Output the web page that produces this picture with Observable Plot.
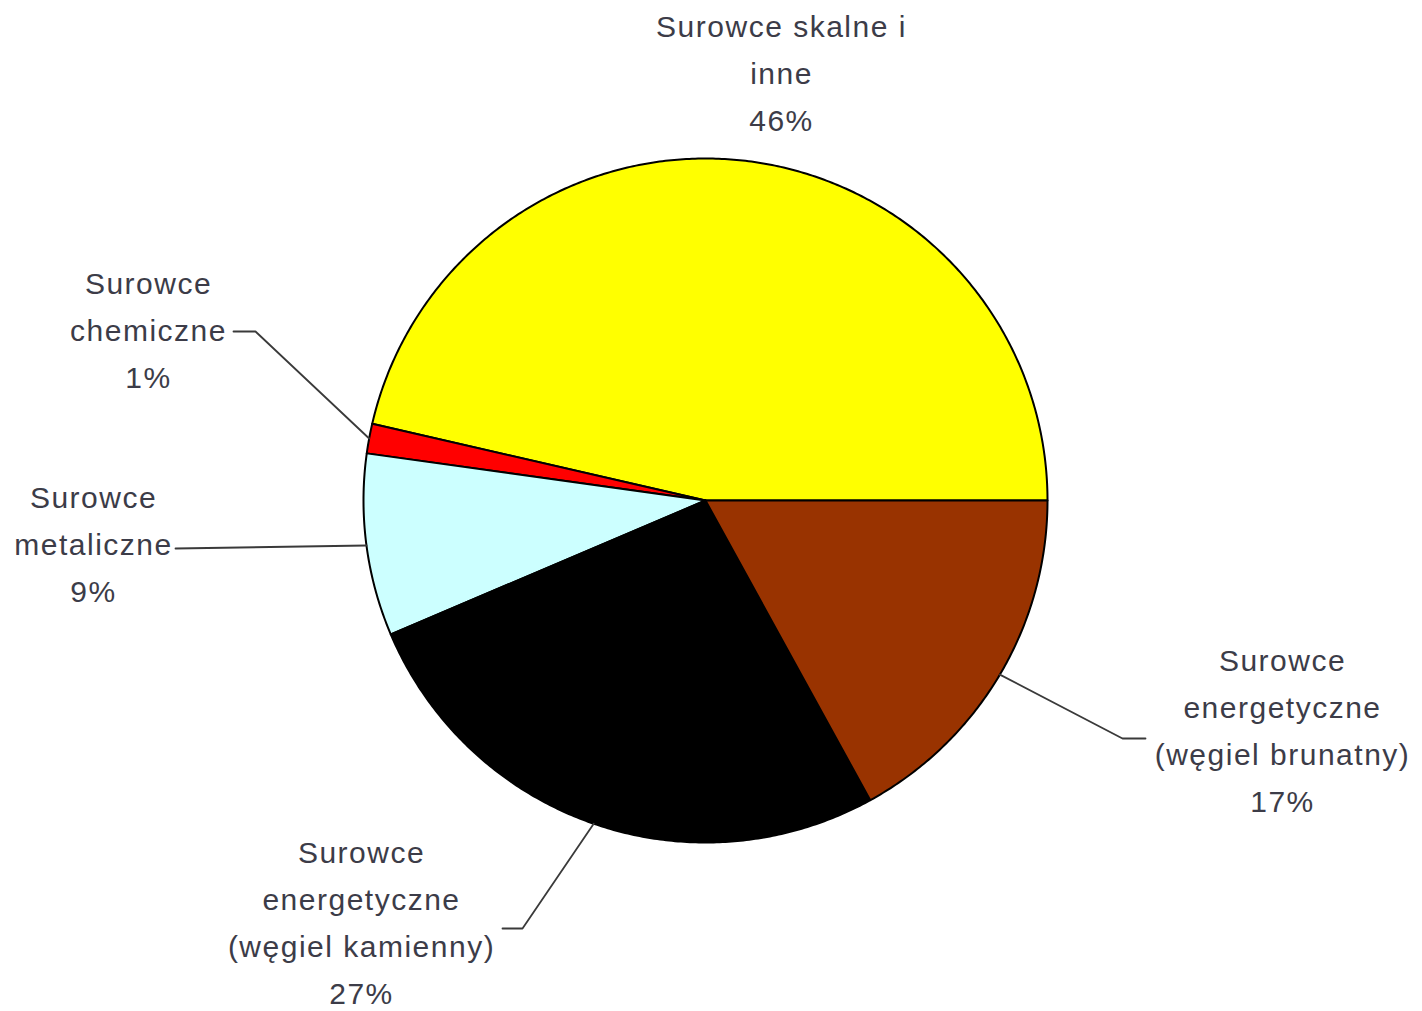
<!DOCTYPE html>
<html>
<head>
<meta charset="utf-8">
<script src="https://cdn.jsdelivr.net/npm/d3@7"></script>
<script src="https://cdn.jsdelivr.net/npm/@observablehq/plot@0.6"></script>
<style>
  html, body { margin: 0; padding: 0; background: #fff; }
  #chart { width: 1422px; height: 1011px; }
</style>
</head>
<body>
<div id="chart"></div>
<script>
// ---- data ----
const categories = [
  "Surowce skalne i inne",
  "Surowce chemiczne",
  "Surowce metaliczne",
  "Surowce energetyczne (węgiel kamienny)",
  "Surowce energetyczne (węgiel brunatny)"
];
const labelNames = [
  "Surowce skalne i\ninne",
  "Surowce\nchemiczne",
  "Surowce\nmetaliczne",
  "Surowce\nenergetyczne\n(węgiel kamienny)",
  "Surowce\nenergetyczne\n(węgiel brunatny)"
];
const shares = [46.4, 1.4, 8.6, 26.6, 17.0];
const percentLabels = ["46%", "1%", "9%", "27%", "17%"];

// ---- styles / layout ----
const palette = ["#FFFF00", "#FF0000", "#CCFFFF", "#000000", "#993300"];
const W = 1422, H = 1011;
const cx = 705, cy = 500, R = 342;
// label block centres and leader elbows (annotation layout)
const labelLayout = [
  {x: 781, y: 68, leader: []},
  {x: 148, y: 325, leader: [[233, 331], [255, 331]]},
  {x: 93, y: 539, leader: [[175, 548]]},
  {x: 361, y: 918, leader: [[502, 928], [522, 928]]},
  {x: 1282, y: 726, leader: [[1145, 738], [1122, 738]]}
];

// ---- geometry from data (counter-clockwise from 3 o'clock) ----
const total = d3.sum(shares);
let acc = 0;
const slices = shares.map((v, i) => {
  const a0 = acc / total * 2 * Math.PI;
  acc += v;
  const a1 = acc / total * 2 * Math.PI;
  return {category: categories[i], a0, a1, mid: (a0 + a1) / 2};
});
const pt = (a, r = R) => [cx + r * Math.cos(a), cy - r * Math.sin(a)];

const pieRows = [];
slices.forEach((s, i) => {
  const n = Math.max(2, Math.ceil((s.a1 - s.a0) / (Math.PI / 360)));
  const pts = [[cx, cy]];
  for (let k = 0; k <= n; k++) pts.push(pt(s.a0 + (s.a1 - s.a0) * k / n));
  pts.push([cx, cy]);
  pts.forEach(([x, y], k) => pieRows.push({category: s.category, x, y, k}));
});

const leaderRows = [];
slices.forEach((s, i) => {
  const L = labelLayout[i].leader;
  if (!L.length) return;
  const pts = [...L, pt(s.mid)];
  pts.forEach(([x, y]) => leaderRows.push({category: s.category, x, y}));
});

const textRows = slices.map((s, i) => ({
  category: s.category,
  text: labelNames[i] + "\n" + percentLabels[i],
  x: labelLayout[i].x,
  y: labelLayout[i].y
}));

const chart = Plot.plot({
  width: W,
  height: H,
  margin: 0,
  x: {domain: [0, W], range: [0, W], axis: null},
  y: {domain: [0, H], range: [0, H], axis: null},
  color: {domain: categories, range: palette},
  style: {
    fontFamily: "'Liberation Sans', Arial, sans-serif",
    letterSpacing: "1.5px",
    background: "#fff"
  },
  marks: [
    Plot.line(pieRows, {
      x: "x", y: "y", z: "category", fill: "category",
      stroke: "#000", strokeWidth: 2, strokeLinejoin: "round", curve: "linear"
    }),
    Plot.line(leaderRows, {
      x: "x", y: "y", z: "category", stroke: "#3a3a3a", strokeWidth: 1.8
    }),
    Plot.text(textRows, {
      x: "x", y: "y", text: "text",
      fontSize: 30, lineHeight: 1.567, textAnchor: "middle", lineAnchor: "middle",
      fill: "#3c3c48"
    })
  ]
});
document.getElementById("chart").appendChild(chart);
</script>
</body>
</html>
